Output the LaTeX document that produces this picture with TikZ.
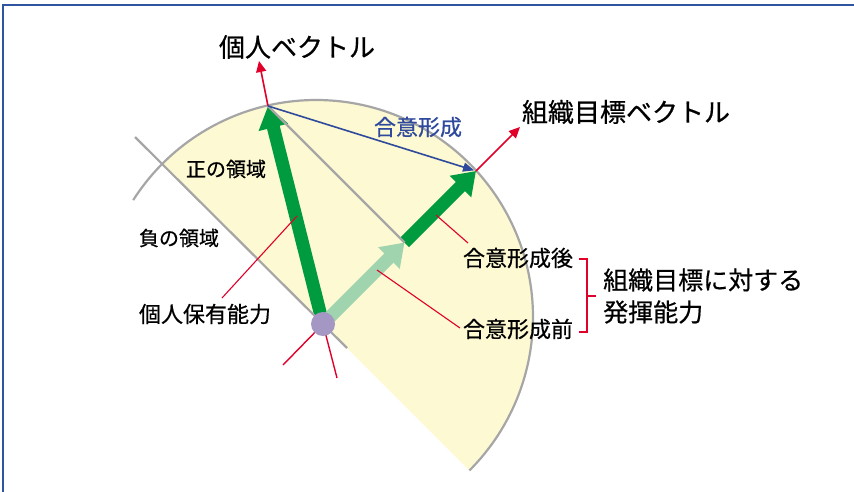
\documentclass[tikz,border=0pt]{standalone}
\usepackage{fontspec}
\setmainfont[FakeBold=0.6]{Noto Sans CJK JP}
\usetikzlibrary{arrows.meta}
\definecolor{framecol}{HTML}{2F55A0}
\definecolor{fanfill}{HTML}{FDF9D2}
\definecolor{fangray}{HTML}{A6A6A6}
\definecolor{dkgreen}{HTML}{009B3E}
\definecolor{ltgreen}{HTML}{A0D4AE}
\definecolor{leadred}{HTML}{E0002A}
\definecolor{consblue}{HTML}{2F4A9C}
\definecolor{origin}{HTML}{A597C4}
\tikzset{
  fsz/.style={font=\fontsize{#1pt}{#1pt}\selectfont},
  lbl/.style={inner sep=0pt, text=black},
  grayline/.style={draw=fangray, line width=2.2pt},
  bigarrow/.style={line width=13pt, -{Triangle[width=29pt,length=22pt]}},
  redarrow/.style={draw=leadred, line width=1.6pt, -{Triangle[width=10pt,length=11pt]}},
  redline/.style={draw=leadred, line width=1.4pt},
  leader/.style={draw=leadred, line width=1.1pt},
}
\begin{document}
\begin{tikzpicture}[x=1pt,y=-1pt]
\useasboundingbox (0,0) rectangle (854,491);
% frame
\draw[framecol, line width=2pt] (3,520) -- (3,5) -- (880,5);
% key points
\coordinate (C) at (316,317);
\coordinate (O) at (323,324);
\coordinate (Ti) at (268,106);
\coordinate (To) at (476,171);
\coordinate (P) at (404.5,242.5);
\coordinate (Ri) at (259,61);
\coordinate (Ro) at (520,127);
\coordinate (Bi) at (337,378);
\coordinate (Bo) at (283,365);
\coordinate (L1) at (135,137);
\coordinate (L2) at (347,348);
% semicircle fill
\fill[fanfill] (C) ++(225:217) arc[start angle=225, end angle=405, radius=217] -- cycle;
% gray arc
\draw[grayline] (C) ++(212.6:217) arc[start angle=212.6, end angle=405, radius=217];
% red backward lines
\draw[redline] (O) -- (Bi);
\draw[redline] (O) -- (Bo);
% red extension arrows
\draw[redarrow] (Ti) -- (Ri);
\draw[redarrow] (To) -- (Ro);
% green arrows
\draw[dkgreen, bigarrow] (O) -- (Ti);
\draw[dkgreen, bigarrow] (P) -- (To);
\draw[ltgreen, bigarrow] (O) -- (P);
% gray lines
\draw[grayline] (L1) -- (L2);
\draw[grayline] (Ti) -- (P);
% origin
\node[circle, fill=origin, minimum size=24pt, inner sep=0pt] (Odot) at (O) {};
% consensus arrow
\draw[consblue, line width=1.6pt, -{Triangle[width=9pt,length=11pt]}, shorten >=2pt] (Ti) -- (To);
% labels
\node[lbl, fsz=26] (indiv) at (297,47) {個人ベクトル};
\node[lbl, fsz=26] (orgv) at (626,112) {組織目標ベクトル};
\node[lbl, fsz=22, text=consblue] (cons) at (418,127) {合意形成};
\node[lbl, fsz=20] (pos) at (226,169) {正の領域};
\node[lbl, fsz=20] (neg) at (179,238) {負の領域};
\node[lbl, fsz=22] (hold) at (205,314) {個人保有能力};
\node[lbl, fsz=22] (after) at (518,258) {合意形成後};
\node[lbl, fsz=22] (before) at (518,329) {合意形成前};
\node[lbl, align=left, anchor=west, font=\fontsize{25pt}{32pt}\selectfont] (perf) at (603,296) {組織目標に対する\\発揮能力};
% leaders
\coordinate (h1) at (297,216);
\coordinate (a1) at (436,215);
\coordinate (b1) at (377,270);
\draw[leader] (222,298) -- (h1);
\draw[leader] (468,243) -- (a1);
\draw[leader] (460,328) -- (b1);
% bracket
\draw[leader, line width=1.4pt] (579,259) -- (587,259) -- (587,332) -- (579,332);
\draw[leader, line width=1.4pt] (587,296) -- (596,296);
\end{tikzpicture}
\end{document}
